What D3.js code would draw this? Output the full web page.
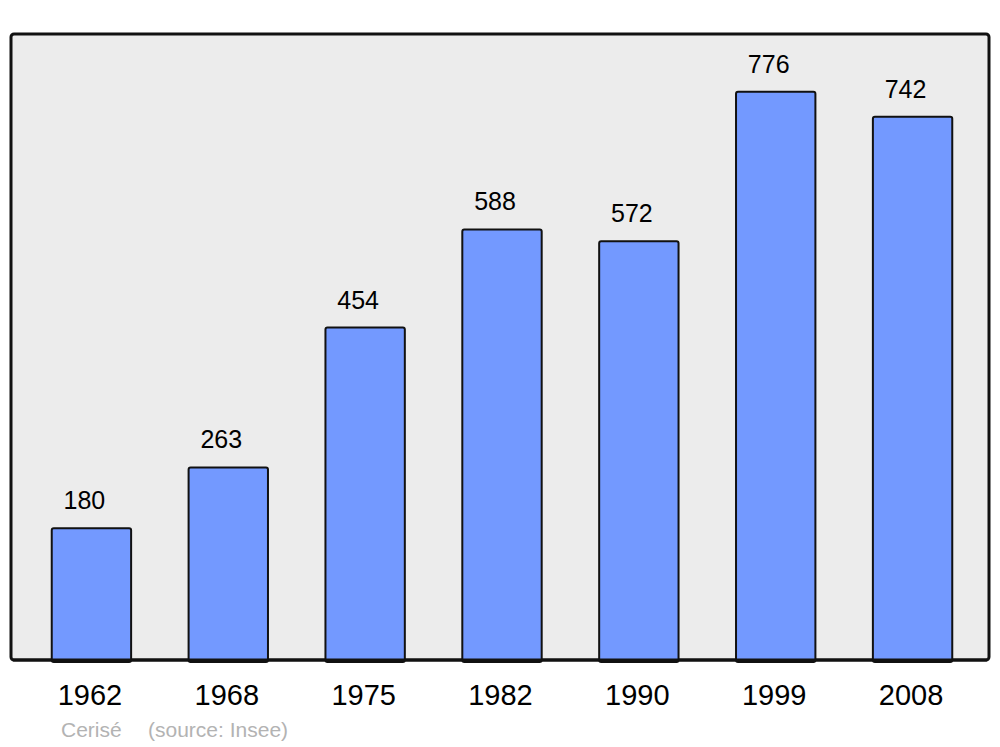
<!DOCTYPE html>
<html>
<head>
<meta charset="utf-8">
<script src="https://cdn.jsdelivr.net/npm/d3@7"></script>
<style>
  body { margin: 0; background: #fff; }
  text { font-family: "Liberation Sans", Arial, sans-serif; }
</style>
</head>
<body>
<svg id="chart"></svg>
<script>
const years = ["1962", "1968", "1975", "1982", "1990", "1999", "2008"];
const population = [180, 263, 454, 588, 572, 776, 742];
const commune = "Cerisé";
const sourceNote = "(source: Insee)";

const width = 1000, height = 747;
const panel = { left: 11, top: 34, right: 989, bottom: 660 };

const svg = d3.select("#chart").attr("width", width).attr("height", height);

const x = d3.scaleBand()
  .domain(years)
  .range([23, 981])
  .paddingInner(0.42)
  .paddingOuter(0.21);

const y = d3.scaleLinear()
  .domain([0, 855])
  .range([panel.bottom, panel.top]);

// background panel
svg.append("rect")
  .attr("x", panel.left)
  .attr("y", panel.top)
  .attr("width", panel.right - panel.left)
  .attr("height", panel.bottom - panel.top)
  .attr("rx", 3)
  .attr("fill", "#ececec")
  .attr("stroke", "#111")
  .attr("stroke-width", 3);

const data = years.map((yr, i) => ({ year: yr, value: population[i] }));

svg.append("g")
  .selectAll("rect")
  .data(data)
  .join("rect")
  .attr("x", d => x(d.year))
  .attr("y", d => y(d.value))
  .attr("width", x.bandwidth())
  .attr("height", d => y(0) - y(d.value) + 2)
  .attr("rx", 2)
  .attr("fill", "#7399ff")
  .attr("stroke", "#111")
  .attr("stroke-width", 2);

// redraw baseline over bar bottoms
svg.append("line")
  .attr("x1", panel.left + 2)
  .attr("x2", panel.right - 2)
  .attr("y1", panel.bottom)
  .attr("y2", panel.bottom)
  .attr("stroke", "#111")
  .attr("stroke-width", 3);

// value labels
svg.append("g")
  .selectAll("text")
  .data(data)
  .join("text")
  .attr("x", d => x(d.year) + x.bandwidth() / 2 - 7)
  .attr("y", d => y(d.value) - 19)
  .attr("text-anchor", "middle")
  .attr("font-size", 25)
  .attr("fill", "#000")
  .text(d => d.value);

// year labels
svg.append("g")
  .selectAll("text")
  .data(years)
  .join("text")
  .attr("x", d => x(d) + x.bandwidth() / 2 - 1.5)
  .attr("y", 705)
  .attr("text-anchor", "middle")
  .attr("font-size", 29)
  .attr("fill", "#000")
  .text(d => d);

// source line
svg.append("text")
  .attr("x", 61)
  .attr("y", 737)
  .attr("font-size", 21)
  .attr("fill", "#b3b3b3")
  .text(commune);

svg.append("text")
  .attr("x", 148)
  .attr("y", 737)
  .attr("font-size", 21)
  .attr("fill", "#b3b3b3")
  .text(sourceNote);
</script>
</body>
</html>
